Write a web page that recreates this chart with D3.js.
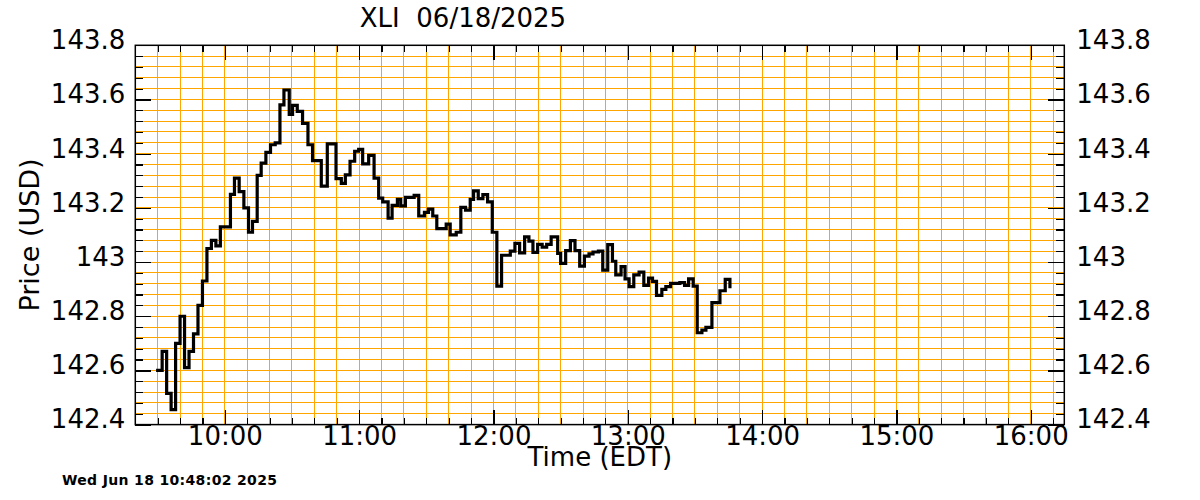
<!DOCTYPE html>
<html>
<head>
<meta charset="utf-8">
<script src="https://cdn.jsdelivr.net/npm/d3@7"></script>
<style>
html,body{margin:0;padding:0;background:#fff;}
svg{display:block;}
text{font-family:"DejaVu Sans",sans-serif;fill:#000;}
</style>
</head>
<body>
<svg id="chart" width="1200" height="500"></svg>
<script>
const title = "XLI  06/18/2025";
const footer = "Wed Jun 18 10:48:02 2025";
const xTitle = "Time (EDT)";
const yTitle = "Price (USD)";

const times = ["09:30:00","09:32:00","09:34:00","09:36:00","09:38:00","09:40:00","09:42:00","09:44:00","09:46:00","09:48:00","09:50:00","09:52:00","09:54:00","09:56:00","09:58:00",
"10:02:30","10:04:18","10:06:24","10:08:30","10:10:34","10:12:21","10:14:27","10:16:14","10:18:20","10:20:24","10:22:30","10:24:37","10:26:24","10:28:46","10:30:15","10:32:21","10:34:43","10:37:08","10:39:11","10:43:05","10:45:46","10:49:40","10:52:02","10:53:50","10:55:56","10:58:00","10:59:47",
"11:01:34","11:04:15","11:06:40","11:08:43","11:10:31","11:12:56","11:14:43","11:17:05","11:18:34","11:20:40","11:24:34","11:26:37","11:29:10","11:30:58","11:32:53","11:34:41","11:38:53","11:40:40","11:43:22","11:45:25","11:47:31","11:49:37","11:51:06","11:53:12","11:55:16","11:57:22","11:59:28",
"12:01:31","12:03:37","12:07:31","12:09:35","12:11:41","12:13:55","12:15:50","12:17:38","12:19:44","12:21:45","12:23:46","12:25:46","12:28:41","12:30:01","12:32:15","12:34:22","12:36:25","12:38:31","12:40:38","12:42:41","12:44:28","12:46:53","12:48:49","12:51:03","12:53:09","12:54:38","12:57:00","12:58:47",
"13:00:35","13:02:41","13:05:03","13:07:10","13:09:16","13:11:03","13:12:50","13:15:13","13:17:00","13:19:07","13:23:16","13:25:22","13:27:10","13:29:13","13:31:01","13:33:07","13:34:54","13:37:35","13:41:10","13:43:32","13:45:38"];

const prices = [142.600,142.670,142.515,142.455,142.700,142.800,142.610,142.670,142.735,142.840,142.930,143.050,143.080,143.060,143.130,
143.250,143.310,143.260,143.200,143.110,143.150,143.320,143.365,143.405,143.433,143.440,143.580,143.635,143.545,143.578,143.556,143.512,143.433,143.374,143.280,143.436,143.308,143.290,143.322,143.372,143.409,143.416,
143.362,143.394,143.310,143.236,143.222,143.162,143.209,143.231,143.207,143.239,143.246,143.170,143.183,143.195,143.170,143.123,143.140,143.100,143.110,143.202,143.192,143.231,143.263,143.234,143.249,143.222,143.110,
142.911,143.025,143.040,143.069,143.034,143.093,143.077,143.036,143.065,143.055,143.065,143.093,143.032,142.995,143.042,143.079,143.042,142.985,143.022,143.030,143.037,143.040,142.970,143.064,143.003,142.953,142.983,142.938,
142.909,142.953,142.963,142.914,142.941,142.929,142.877,142.899,142.909,142.921,142.924,142.914,142.938,142.911,142.739,142.749,142.759,142.850,142.894,142.936,142.909];

const xDomain = ["09:20:00","16:15:00"];
const xTickLabels = ["10:00","11:00","12:00","13:00","14:00","15:00","16:00"];
const yDomain = [142.4, 143.8];
const yTickValues = [142.4,142.6,142.8,143.0,143.2,143.4,143.6,143.8];
const yTickLabels = ["142.4","142.6","142.8","143","143.2","143.4","143.6","143.8"];
const yMinorStep = 0.04;
const xMinorMinutes = 10;

const parse = d3.timeParse("%H:%M:%S");
const parseHM = d3.timeParse("%H:%M");
const data = times.map((t,i)=>({t:parse(t), v:prices[i]}));

const L=135.3, R=1064.3, T=45.3, B=424.6;
const x = d3.scaleTime().domain(xDomain.map(parse)).range([L,R]);
const y = d3.scaleLinear().domain(yDomain).range([B,T]);

const svg = d3.select("#chart");
const orange = "#FFA500";

// grid
const xMinor = x.ticks(d3.timeMinute.every(xMinorMinutes)).filter(d=>x(d)>L+1 && x(d)<R-1);
const nY = Math.round((yDomain[1]-yDomain[0])/yMinorStep);
const yMinor = d3.range(1,nY).map(i=>yDomain[0]+i*yMinorStep);
const grid = svg.append("g").attr("shape-rendering","crispEdges").attr("stroke",orange).attr("stroke-width",1);
grid.selectAll("line.v").data(xMinor).join("line").attr("class","v")
  .attr("x1",d=>x(d)).attr("x2",d=>x(d)).attr("y1",T).attr("y2",B);
grid.selectAll("line.h").data(yMinor).join("line").attr("class","h")
  .attr("x1",L).attr("x2",R).attr("y1",d=>y(d)).attr("y2",d=>y(d));

// axes ticks
const hours = xTickLabels.map(parseHM);
const fmtY = d=>yTickLabels[yTickValues.findIndex(v=>Math.abs(v-d)<1e-6)];
function styleAxis(g){
  g.select(".domain").remove();
  g.selectAll(".tick line").attr("stroke","#000").attr("stroke-width",1.2).attr("shape-rendering","crispEdges");
}
// minor ticks
svg.append("g").attr("transform",`translate(${L},0)`).call(d3.axisLeft(y).tickValues(yMinor).tickSize(-8).tickFormat("")).call(styleAxis);
svg.append("g").attr("transform",`translate(${R},0)`).call(d3.axisRight(y).tickValues(yMinor).tickSize(-8).tickFormat("")).call(styleAxis);
svg.append("g").attr("transform",`translate(0,${T})`).call(d3.axisTop(x).tickValues(xMinor).tickSize(-7).tickFormat("")).call(styleAxis);
svg.append("g").attr("transform",`translate(0,${B})`).call(d3.axisBottom(x).tickValues(xMinor).tickSize(-7).tickFormat("")).call(styleAxis);
// major ticks with labels
const yl = svg.append("g").attr("transform",`translate(${L},0)`).call(d3.axisLeft(y).tickValues(yTickValues).tickSize(-16).tickPadding(10).tickFormat(fmtY)).call(styleAxis);
const yr = svg.append("g").attr("transform",`translate(${R},0)`).call(d3.axisRight(y).tickValues(yTickValues).tickSize(-16).tickPadding(12).tickFormat(fmtY)).call(styleAxis);
[yl,yr].forEach(g=>g.selectAll(".tick text").attr("font-size",26).attr("font-family","DejaVu Sans").attr("fill","#000").attr("dy","0.13em"));
svg.append("g").attr("transform",`translate(0,${T})`).call(d3.axisTop(x).tickValues(hours).tickSize(-15).tickFormat("")).call(styleAxis);
const xb = svg.append("g").attr("transform",`translate(0,${B})`).call(d3.axisBottom(x).tickValues(hours).tickSize(-15).tickPadding(2).tickFormat(d3.timeFormat("%H:%M"))).call(styleAxis);
xb.selectAll(".tick text").attr("font-size",26).attr("font-family","DejaVu Sans").attr("fill","#000");

// frame
svg.append("rect").attr("x",L).attr("y",T).attr("width",R-L).attr("height",B-T)
  .attr("fill","none").attr("stroke","#000").attr("stroke-width",1.5);

// price line
const line = d3.line().x(d=>x(d.t)).y(d=>y(d.v)).curve(d3.curveStepAfter);
svg.append("path").datum(data).attr("d",line).attr("fill","none").attr("stroke","#000")
  .attr("stroke-width",3.2).attr("stroke-linejoin","miter").attr("stroke-linecap","square");

// texts
svg.append("text").attr("x",463).attr("y",27).attr("text-anchor","middle").attr("font-size",26)
  .style("white-space","pre").attr("xml:space","preserve").text(title);
svg.append("text").attr("x",(L+R)/2).attr("y",466).attr("text-anchor","middle").attr("font-size",26).text(xTitle);
svg.append("text").attr("transform",`translate(39,${(T+B)/2}) rotate(-90)`).attr("text-anchor","middle").attr("font-size",27).text(yTitle);
svg.append("text").attr("x",62).attr("y",485).attr("font-size",14).attr("font-weight","bold").attr("font-family","DejaVu Sans Mono")
  .attr("textLength",215).attr("lengthAdjust","spacing").text(footer);
</script>
</body>
</html>
